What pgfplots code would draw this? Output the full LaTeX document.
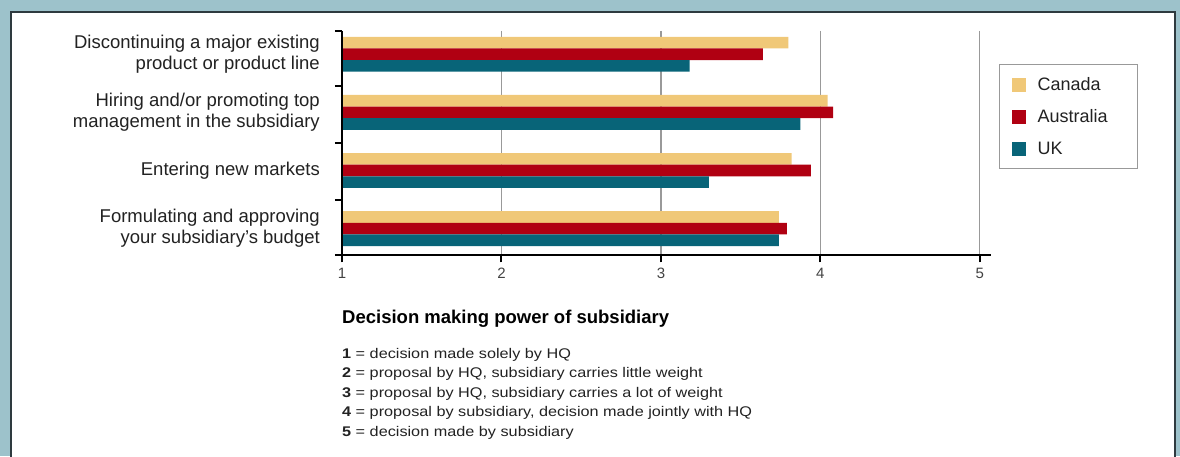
\documentclass[border=0pt]{standalone}
\usepackage{fontspec}
\setmainfont{Liberation Sans}
\newfontfamily\widesans[FakeStretch=1.16]{Liberation Sans}
\usepackage{pgfplots}
\pgfplotsset{compat=1.18}

\definecolor{canada}{HTML}{F0C878}
\definecolor{australia}{HTML}{B00012}
\definecolor{uk}{HTML}{086478}
\definecolor{framebg}{HTML}{9DC2CB}
\definecolor{edge}{HTML}{2E3A3F}
\definecolor{txt}{HTML}{222222}

% Mean ratings per decision (1 = HQ alone ... 5 = subsidiary alone)
\pgfplotstableread{
pos canada australia uk
1   3.80   3.64      3.18
2   4.045  4.08      3.875
3   3.82   3.94      3.30
4   3.74   3.79      3.74
}\ratings

\begin{document}
\begin{tikzpicture}
\fill[framebg] (0pt,0pt) rectangle (1180pt,456pt);
\begin{scope}
  \clip (0pt,0pt) rectangle (1180pt,456pt);
  \draw[edge, line width=2pt, fill=white] (11pt,-10pt) rectangle (1175pt,444pt);
\end{scope}

\begin{axis}[
  at={(342pt,200.7pt)}, anchor=south west,
  scale only axis, width=649pt, height=224.3pt,
  xbar, bar width=0.2,
  xmin=1, xmax=5.07, ymin=0.6, ymax=4.46,
  y dir=reverse,
  axis x line*=bottom, axis y line*=left,
  axis line style={line width=2pt, black, -},
  tick align=outside,
  major tick length=7pt,
  tick style={line width=2pt, black},
  xtick={1,2,3,4,5},
  xmajorgrids,
  major grid style={black!40, line width=1.3pt},
  /pgf/number format/assume math mode=true,
  xticklabel style={font=\fontsize{15}{18}\selectfont, text=txt!85, inner sep=0pt, yshift=-6pt},
  ytick={0.6,1.55,2.52,3.5,4.46},
  yticklabels={},
  extra y ticks={1,2,3,4},
  extra y tick labels={
    {Discontinuing a major existing\\product or product line},
    {Hiring and/or promoting top\\management in the subsidiary},
    {Entering new markets},
    {Formulating and approving\\your subsidiary’s budget}},
  extra y tick style={major tick length=0pt, tick style={draw=none},
    yticklabel style={align=right, font=\fontsize{18.5}{21}\selectfont,
      text=txt, inner sep=0pt, xshift=-22pt}},
  legend style={
    at={(1.0123,0.852)}, anchor=north west,
    draw=black!40, line width=1.2pt, fill=white,
    inner xsep=12pt, inner ysep=13pt,
    font=\fontsize{18}{21}\selectfont,
    row sep=18pt,
    nodes={inner sep=0pt, text width=88pt, text height=13pt, text depth=0pt, text=txt},
    /tikz/every odd column/.append style={column sep=12pt},
  },
  legend cell align=left,
  legend image code/.code={\fill[#1, draw=none] (0pt,-7.5pt) rectangle (14pt,6.5pt);},
  % the value axis line stays visible over the bar bases
  after end axis/.code={\draw[line width=2pt, black] (rel axis cs:0,0) -- (rel axis cs:0,1);},
]
\addplot[fill=canada, draw=none, bar shift=-0.2] table[x=canada, y=pos] {\ratings};
\addplot[fill=australia, draw=none, bar shift=0] table[x=australia, y=pos] {\ratings};
\addplot[fill=uk, draw=none, bar shift=0.2] table[x=uk, y=pos] {\ratings};
\legend{Canada, Australia, UK}
\end{axis}

% scale key below the chart
\node[anchor=base west, inner sep=0pt, text=black, font=\bfseries\fontsize{18.5}{22}\selectfont]
  at (342pt,133pt) {Decision making power of subsidiary};
\begin{scope}[every node/.style={anchor=base west, inner sep=0pt, text=txt, font=\widesans\fontsize{14}{17}\selectfont}]
  \node at (342pt,97.7pt) {\textbf{1} = decision made solely by HQ};
  \node at (342pt,78.3pt) {\textbf{2} = proposal by HQ, subsidiary carries little weight};
  \node at (342pt,58.7pt) {\textbf{3} = proposal by HQ, subsidiary carries a lot of weight};
  \node at (342pt,39.3pt) {\textbf{4} = proposal by subsidiary, decision made jointly with HQ};
  \node at (342pt,20.0pt) {\textbf{5} = decision made by subsidiary};
\end{scope}

\pgfresetboundingbox
\path[use as bounding box] (0pt,0pt) rectangle (1180pt,456pt);
\end{tikzpicture}
\end{document}
